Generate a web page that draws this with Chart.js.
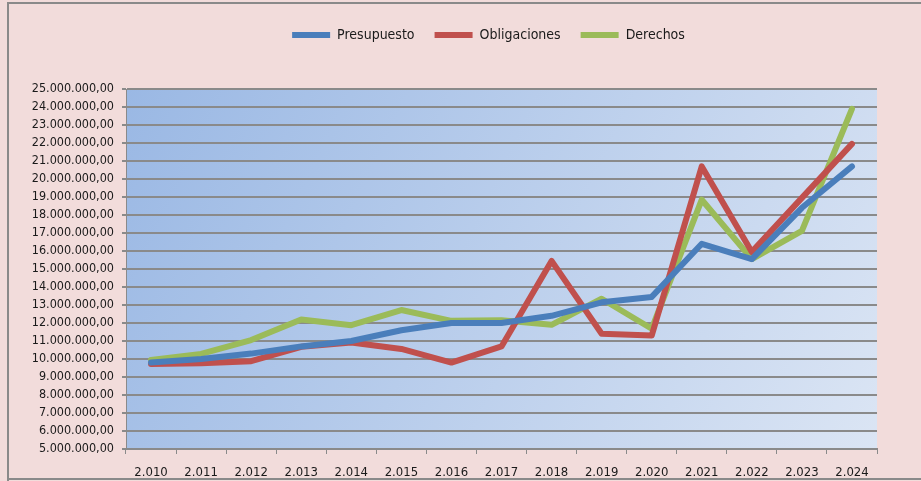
<!DOCTYPE html>
<html>
<head>
<meta charset="utf-8">
<script src="https://cdn.jsdelivr.net/npm/chart.js@4/dist/chart.umd.min.js"></script>
<style>
  html, body { margin: 0; padding: 0; background: #f2dcdb; }
  #wrap { width: 921px; height: 481px; position: relative; }
</style>
</head>
<body>
<div id="wrap"><canvas id="graph"></canvas></div>
<script>
const years = ['2.010', '2.011', '2.012', '2.013', '2.014', '2.015', '2.016', '2.017', '2.018', '2.019', '2.020', '2.021', '2.022', '2.023', '2.024']

const presupuesto = [9800000, 10000000, 10300000, 10700000, 11000000, 11600000, 12000000, 12000000, 12400000, 13150000, 13450000, 16400000, 15550000, 18400000, 20700000]
const obligaciones = [9720000, 9760000, 9880000, 10680000, 10920000, 10560000, 9800000, 10700000, 15450000, 11400000, 11300000, 20700000, 15950000, 18950000, 21950000]
const derechos = [9940000, 10280000, 11050000, 12200000, 11880000, 12720000, 12120000, 12150000, 11900000, 13350000, 11680000, 18850000, 15550000, 17120000, 23900000]

const yMin = 5000000
const yMax = 25000000

Chart.defaults.font.family = '"DejaVu Sans Condensed", "Liberation Sans Narrow", sans-serif'
Chart.defaults.color = '#1a1a1a'

// label like 25.000.000,00
const fmt = (v) => Math.round(v).toString().replace(/\B(?=(\d{3})+(?!\d))/g, '.') + ',00'

const plotBg = {
  id: 'plotBg',
  beforeDraw(chart) {
    const { ctx, width, height, chartArea: { left, top, right, bottom } } = chart
    ctx.save()
    ctx.fillStyle = '#f2dcdb'
    ctx.fillRect(0, 0, width, height)
    const g = ctx.createLinearGradient(left, top, right, bottom)
    g.addColorStop(0, '#9ab8e4')
    g.addColorStop(1, '#dbe5f4')
    ctx.fillStyle = g
    ctx.fillRect(left, top, right - left, bottom - top)
    // outer frame
    ctx.strokeStyle = '#8a8a8a'
    ctx.lineWidth = 2
    ctx.beginPath()
    ctx.moveTo(8, 481)
    ctx.lineTo(8, 3)
    ctx.lineTo(921, 3)
    ctx.moveTo(8, 479)
    ctx.lineTo(921, 479)
    ctx.stroke()
    ctx.restore()
  }
}

// legend takes the space above the plot and sits a bit right of centre
const legendSpace = {
  id: 'legendSpace',
  beforeInit(chart) {
    const legend = chart.legend
    const fit = legend.fit
    legend.fit = function () {
      fit.call(legend)
      legend.height = 81
    }
  },
  afterLayout(chart) {
    chart.legend.left += 50
    chart.legend.right += 50
  }
}

const ds = (label, data, color) => ({
  label,
  data,
  borderColor: color,
  backgroundColor: color,
  borderWidth: 6,
  borderCapStyle: 'round',
  borderJoinStyle: 'round',
  pointRadius: 0,
  pointHoverRadius: 0,
  tension: 0
})

new Chart(document.getElementById('graph'), {
  type: 'line',
  plugins: [plotBg, legendSpace],
  data: {
    labels: years,
    datasets: [
      ds('Presupuesto', presupuesto, '#4a7ebb'),
      ds('Obligaciones', obligaciones, '#c0504d'),
      ds('Derechos', derechos, '#9bbb59')
    ]
  },
  options: {
    responsive: true,
    maintainAspectRatio: false,
    animation: false,
    layout: { padding: { top: 8, left: 0, right: 44, bottom: 0 } },
    plugins: {
      tooltip: { enabled: false },
      legend: {
        position: 'top',
        labels: {
          usePointStyle: true,
          pointStyle: 'line',
          pointStyleWidth: 38,
          padding: 20,
          color: '#1a1a1a',
          font: { size: 14 }
        }
      }
    },
    scales: {
      x: {
        offset: true,
        afterFit: (s) => { s.height = 32 },
        grid: { offset: true, drawOnChartArea: false, color: '#8a8a8a', tickLength: 5, lineWidth: 1 },
        border: { color: '#8a8a8a', width: 2 },
        ticks: { autoSkip: false, padding: 11, maxRotation: 0, font: { size: 13 }, color: '#1a1a1a' }
      },
      y: {
        min: yMin,
        max: yMax,
        afterFit: (s) => { s.width = 126 },
        grid: { color: '#8a8a8a', lineWidth: 2, tickLength: 4 },
        border: { color: '#8a8a8a', width: 1 },
        ticks: { autoSkip: false, stepSize: 1000000, padding: 8, font: { size: 12.5 }, color: '#1a1a1a', callback: (v) => fmt(v) }
      }
    }
  }
})
</script>
</body>
</html>
